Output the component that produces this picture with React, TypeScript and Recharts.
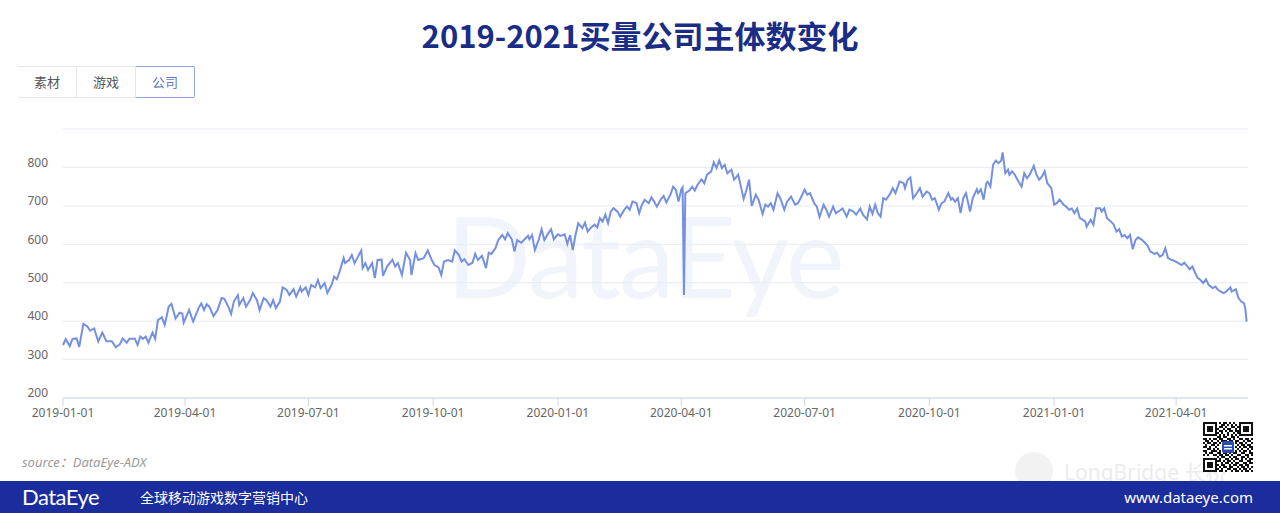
import React from 'react';
import { LineChart, Line, XAxis, YAxis, CartesianGrid } from 'recharts';

const START_DATE = '2019-01-01';

// days since 2019-01-01
const dayOffsets = [
  0, 2, 5, 7, 10, 12, 15, 18, 20, 23,
  26, 29, 32, 36, 39, 42, 44, 47, 49, 53,
  55, 57, 59, 61, 63, 66, 68, 70, 73, 75,
  78, 80, 83, 86, 88, 89, 93, 96, 100, 102,
  104, 106, 108, 111, 114, 117, 119, 122, 124, 126,
  129, 130, 133, 135, 138, 140, 143, 145, 148, 150,
  153, 155, 157, 160, 162, 165, 167, 170, 172, 175,
  176, 179, 181, 183, 186, 188, 190, 193, 195, 198,
  200, 202, 204, 207, 208, 211, 213, 215, 217, 220,
  221, 223, 225, 228, 230, 232, 235, 236, 239, 241,
  243, 245, 247, 250, 253, 256, 257, 260, 262, 266,
  269, 272, 274, 277, 279, 281, 284, 287, 289, 292,
  294, 296, 299, 302, 304, 306, 309, 312, 314, 316,
  319, 321, 324, 326, 328, 331, 333, 335, 338, 340,
  343, 344, 346, 348, 351, 353, 355, 358, 360, 362,
  365, 367, 370, 372, 374, 376, 378, 380, 383, 385,
  387, 389, 392, 394, 396, 398, 400, 402, 404, 406,
  409, 411, 414, 416, 418, 420, 423, 425, 427, 429,
  432, 434, 436, 438, 441, 443, 445, 448, 450, 452,
  454, 456, 457, 458, 459, 462, 464, 466, 468, 471,
  473, 475, 478, 480, 482, 484, 486, 488, 490, 493,
  495, 498, 500, 502, 504, 506, 508, 511, 513, 516,
  518, 520, 522, 524, 527, 529, 532, 534, 537, 540,
  542, 544, 547, 549, 551, 554, 556, 558, 561, 563,
  565, 568, 570, 573, 575, 578, 580, 583, 585, 588,
  590, 593, 595, 597, 599, 601, 603, 605, 607, 610,
  612, 614, 617, 620, 621, 623, 625, 627, 629, 632,
  634, 637, 639, 641, 643, 646, 648, 650, 653, 655,
  656, 658, 660, 662, 664, 666, 669, 671, 674, 675,
  677, 679, 681, 682, 684, 686, 688, 690, 692, 693,
  695, 697, 698, 700, 702, 704, 707, 709, 711, 713,
  716, 718, 720, 722, 724, 726, 729, 731, 733, 735,
  738, 740, 742, 744, 746, 748, 750, 752, 754, 755,
  758, 760, 762, 765, 766, 768, 770, 773, 775, 777,
  779, 781, 783, 785, 787, 789, 791, 793, 796, 798,
  800, 802, 805, 807, 809, 811, 813, 815, 818, 820,
  822, 825, 827, 829, 831, 833, 835, 837, 839, 841,
  843, 845, 848, 850, 852, 854, 856, 858, 861, 862,
  865, 867, 869, 871, 872, 873,
];

const companyCounts = [
  338, 353, 335, 354, 355, 333, 393, 386, 375, 381,
  347, 370, 348, 348, 332, 340, 355, 344, 354, 354,
  338, 360, 354, 360, 344, 370, 354, 403, 410, 390,
  438, 445, 407, 422, 420, 396, 429, 399, 434, 446,
  429, 444, 437, 413, 429, 460, 458, 437, 419, 451,
  468, 442, 460, 438, 455, 473, 455, 429, 460, 455,
  438, 455, 434, 451, 488, 481, 468, 483, 464, 488,
  477, 488, 468, 494, 488, 507, 486, 499, 473, 494,
  516, 509, 529, 564, 551, 559, 572, 551, 564, 584,
  538, 551, 533, 551, 512, 559, 560, 518, 542, 551,
  560, 542, 551, 520, 578, 559, 520, 577, 559, 564,
  584, 559, 546, 540, 520, 555, 559, 555, 584, 572,
  555, 561, 546, 552, 575, 559, 570, 538, 578, 575,
  590, 611, 624, 613, 629, 613, 581, 611, 604, 611,
  622, 613, 624, 585, 613, 639, 611, 629, 639, 613,
  626, 622, 626, 601, 624, 585, 624, 655, 642, 656,
  633, 642, 651, 644, 668, 659, 677, 655, 685, 694,
  685, 672, 690, 698, 690, 711, 707, 681, 703, 716,
  707, 722, 711, 698, 717, 726, 709, 729, 750, 742,
  711, 743, 748, 468, 733, 740, 750, 740, 755, 769,
  759, 781, 789, 813, 798, 818, 798, 807, 785, 794,
  768, 781, 750, 718, 740, 768, 700, 729, 716, 679,
  703, 698, 707, 690, 733, 720, 690, 711, 724, 703,
  707, 720, 742, 729, 733, 707, 698, 671, 703, 690,
  672, 698, 681, 688, 693, 672, 690, 685, 677, 693,
  677, 665, 698, 679, 703, 681, 672, 720, 716, 731,
  746, 733, 763, 759, 746, 768, 774, 720, 729, 746,
  724, 737, 733, 716, 720, 690, 707, 711, 733, 716,
  720, 711, 720, 681, 720, 733, 685, 720, 743, 733,
  743, 716, 759, 763, 750, 807, 818, 811, 818, 839,
  785, 794, 781, 790, 781, 768, 750, 785, 772, 781,
  804, 781, 768, 776, 790, 759, 746, 703, 707, 716,
  703, 698, 690, 693, 681, 693, 668, 664, 659, 646,
  664, 651, 694, 694, 685, 694, 668, 659, 651, 633,
  639, 620, 624, 616, 624, 587, 611, 618, 611, 604,
  596, 581, 575, 578, 568, 572, 590, 564, 559, 556,
  552, 546, 552, 544, 535, 542, 526, 512, 507, 499,
  509, 494, 486, 490, 481, 477, 473, 477, 488, 477,
  483, 460, 451, 447, 434, 399,
];

const xTickLabels = [
  '2019-01-01', '2019-04-01', '2019-07-01', '2019-10-01',
  '2020-01-01', '2020-04-01', '2020-07-01', '2020-10-01',
  '2021-01-01', '2021-04-01',
];
const yTicks = [200, 300, 400, 500, 600, 700, 800, 900];
const hiddenYLabels = [900];
const tabLabels = ['素材', '游戏', '公司'];
const selectedTab = '公司';

const TITLE = '2019-2021买量公司主体数变化';
const SOURCE = 'source：DataEye-ADX';

const toDay = (s: string) =>
  Math.round((Date.parse(s) - Date.parse(START_DATE)) / 86400000);
const xTicks = xTickLabels.map(toDay);
const labelByDay: Record<number, string> = {};
xTickLabels.forEach((l, i) => (labelByDay[xTicks[i]] = l));

const data = dayOffsets.map((d, i) => ({ day: d, count: companyCounts[i] }));

const qrRows = [
  '1111111010110101001111111',
  '1000001001101010101000001',
  '1011101011010011011011101',
  '1011101100101100101011101',
  '1011101011010110111011101',
  '1000001101001001011000001',
  '1111111010101010101111111',
  '0000000110110011010000000',
  '1101011011001101001101101',
  '0110100101110110110010110',
  '1011011010000000101101001',
  '0100110100000000010110110',
  '1101001000000000101011011',
  '0011010100000000010100101',
  '1100111010000000101011010',
  '0101100110110101100110011',
  '1010011011011010011001101',
  '0000000101100101100110100',
  '1111111010011010110101011',
  '1000001110101101001100110',
  '1011101001011010110011011',
  '1011101101100101101101100',
  '1011101010110110010110101',
  '1000001101001101101011010',
  '1111111011010010110101101',
];

const FONT = '"Noto Sans", "Noto Sans CJK SC", sans-serif';
const CJK = '"Noto Sans CJK SC", "Noto Sans", sans-serif';

const YTick = (props: any) => {
  const { x, y, payload } = props;
  if (hiddenYLabels.includes(payload.value)) return <g />;
  return (
    <text x={x} y={y - 5} dy="0.355em" textAnchor="end" fill="#666" fontSize={12} fontFamily={FONT}>
      {payload.value}
    </text>
  );
};

const XTick = (props: any) => {
  const { x, y, payload } = props;
  return (
    <text x={x} y={y} dy="0.71em" textAnchor="middle" fill="#666" fontSize={12} fontFamily={FONT}>
      {labelByDay[payload.value] ?? ''}
    </text>
  );
};

const QRCode = () => (
  <svg width={50} height={50} style={{ position: 'absolute', left: 1203, top: 422 }}>
    <rect width={50} height={50} fill="#fff" />
    {qrRows.map((row, r) =>
      row.split('').map((c, col) =>
        c === '1' ? <rect key={r + '-' + col} x={col * 2} y={r * 2} width={2} height={2} fill="#111" /> : null
      )
    )}
    <rect x={19} y={19} width={12} height={12} rx={2} fill="#2d4db0" />
    <rect x={21} y={23} width={8} height={1.5} fill="#fff" />
    <rect x={21} y={26} width={8} height={1.5} fill="#fff" />
  </svg>
);

export default function App() {
  return (
    <div style={{ position: 'absolute', left: 0, top: 0, width: 1280, height: 513, background: '#fff', overflow: 'hidden' }}>
      <div
        style={{
          position: 'absolute', left: 0, top: 16, width: 1280, textAlign: 'center',
          fontFamily: CJK, fontWeight: 700, fontSize: 31, lineHeight: '38px', color: '#1a2d86',
        }}
      >
        {TITLE}
      </div>

      <div style={{ position: 'absolute', left: 18, top: 66, display: 'flex', height: 32 }}>
        {tabLabels.map((t, i) => {
          const sel = t === selectedTab;
          return (
            <div
              key={t}
              style={{
                width: 58, height: 30, lineHeight: '30px', textAlign: 'center', fontSize: 13,
                fontFamily: CJK, color: sel ? '#5f78c4' : '#555',
                border: sel ? '1px solid #93a5db' : '1px solid #e6e6e6',
                borderLeft: i === 0 || sel ? undefined : 'none',
                borderRadius: i === 0 ? '2px 0 0 2px' : i === tabLabels.length - 1 ? '0 2px 2px 0' : 0,
                background: '#fff',
              }}
            >
              {t}
            </div>
          );
        })}
      </div>

      <div
        style={{
          position: 'absolute', left: 446, top: 190, fontFamily: 'Lato, sans-serif', fontSize: 112,
          color: '#f1f5fb', letterSpacing: -2, lineHeight: '130px',
        }}
      >
        DataEye
      </div>

      <div style={{ position: 'absolute', left: 0, top: 0 }}>
        <LineChart width={1280} height={513} data={data} margin={{ top: 129, right: 32, bottom: 85, left: 13 }}>
          <CartesianGrid horizontal vertical={false} stroke="#e8ebf3" />
          <XAxis
            dataKey="day"
            type="number"
            domain={[0, 874]}
            ticks={xTicks}
            interval={0}
            height={30}
            tick={<XTick />}
            tickSize={8}
            tickMargin={2}
            axisLine={{ stroke: '#ccd5ee' }}
            tickLine={{ stroke: '#ccd5ee' }}
          />
          <YAxis
            type="number"
            domain={[200, 900]}
            ticks={yTicks}
            interval={0}
            width={50}
            axisLine={false}
            tickLine={false}
            tickSize={6}
            tickMargin={9}
            tick={<YTick />}
          />
          <Line
            type="linear"
            dataKey="count"
            stroke="#7590e0"
            strokeWidth={2}
            dot={false}
            isAnimationActive={false}
          />
        </LineChart>
      </div>

      <div
        style={{
          position: 'absolute', left: 22, top: 452, fontFamily: FONT, fontStyle: 'italic',
          fontSize: 13, color: '#9a9a9a',
        }}
      >
        {SOURCE}
      </div>

      <div
        style={{
          position: 'absolute', left: 1015, top: 452, width: 38, height: 38, borderRadius: 19,
          background: '#f2f2f2',
        }}
      />
      <div
        style={{
          position: 'absolute', left: 1064, top: 461, fontFamily: FONT, fontSize: 21,
          color: '#ececec', lineHeight: '22px',
        }}
      >
        LongBridge 长桥
      </div>

      <div style={{ position: 'absolute', left: 0, top: 481, width: 1280, height: 32, background: '#1b2c9c' }}>
        <div
          style={{
            position: 'absolute', left: 22, top: 2, fontFamily: 'Lato, sans-serif', fontSize: 22,
            color: '#fff', lineHeight: '28px', letterSpacing: -0.5,
          }}
        >
          DataEye
        </div>
        <div
          style={{
            position: 'absolute', left: 140, top: 6, fontFamily: CJK, fontSize: 14,
            color: '#fff', lineHeight: '20px',
          }}
        >
          全球移动游戏数字营销中心
        </div>
        <div
          style={{
            position: 'absolute', right: 27, top: 5, fontFamily: FONT, fontSize: 15,
            color: '#fff', lineHeight: '22px',
          }}
        >
          www.dataeye.com
        </div>
      </div>

      <QRCode />
    </div>
  );
}
